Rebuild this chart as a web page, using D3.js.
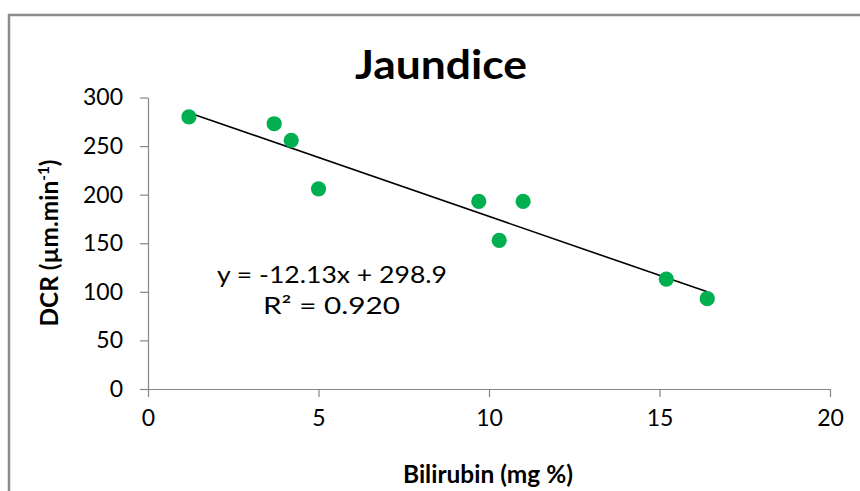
<!DOCTYPE html>
<html><head><meta charset="utf-8">
<script src="https://cdn.jsdelivr.net/npm/d3@7"></script>
<style>
html,body{margin:0;padding:0;background:#fff;}
svg text{font-family:Lato,"Open Sans",sans-serif;}
</style></head>
<body>
<svg id="chart" width="860" height="491"></svg>
<script>
const bilirubin = [1.2, 3.7, 4.2, 5.0, 9.7, 10.3, 11.0, 15.2, 16.4];
const dcr = [280, 273, 256, 206, 193, 153, 193, 113, 93];
const xTicks = [0, 5, 10, 15, 20];
const yTicks = [0, 50, 100, 150, 200, 250, 300];
const slope = -12.13, intercept = 298.9, r2 = "0.920";
const title = "Jaundice";
const xLabel = "Bilirubin (mg %)";

const svg = d3.select("#chart");
const x = d3.scaleLinear().domain([0, 20]).range([148, 830]);
const y = d3.scaleLinear().domain([0, 300]).range([389, 97.5]);

// outer frame (left and top edges visible)
svg.append("path").attr("d", "M9,491 V15 H860").attr("fill", "none")
  .attr("stroke", "#8c8c8c").attr("stroke-width", 2.5);

// axes
const xAxis = svg.append("g").attr("transform", `translate(0,${y(0)})`)
  .call(d3.axisBottom(x).tickValues(xTicks).tickSize(8).tickSizeOuter(0).tickPadding(13));
const yAxis = svg.append("g").attr("transform", `translate(${x(0)},0)`)
  .call(d3.axisLeft(y).tickValues(yTicks).tickSize(8).tickSizeOuter(0).tickPadding(17));
[xAxis, yAxis].forEach(g => {
  g.select(".domain").attr("stroke", "#868686").attr("stroke-width", 1.2);
  g.selectAll(".tick line").attr("stroke", "#868686").attr("stroke-width", 1.2);
  g.selectAll(".tick text").attr("fill", "#000").style("font-size", "23px").style("font-family", "Lato");
});

// trendline
const xmin = d3.min(bilirubin), xmax = d3.max(bilirubin);
svg.append("line")
  .attr("x1", x(xmin)).attr("y1", y(slope * xmin + intercept))
  .attr("x2", x(xmax)).attr("y2", y(slope * xmax + intercept))
  .attr("stroke", "#000").attr("stroke-width", 1.6);

// points
svg.append("g").selectAll("circle").data(bilirubin).join("circle")
  .attr("cx", d => x(d)).attr("cy", (d, i) => y(dcr[i])).attr("r", 7.6)
  .attr("fill", "#00b050");

// title
svg.append("text").attr("x", 441).attr("y", 79).attr("text-anchor", "middle")
  .attr("textLength", 172).attr("lengthAdjust", "spacingAndGlyphs")
  .style("font-size", "40px").style("font-weight", "bold").text(title);

// x label
svg.append("text").attr("x", 488).attr("y", 483).attr("text-anchor", "middle")
  .attr("textLength", 170).attr("lengthAdjust", "spacingAndGlyphs")
  .style("font-size", "24px").style("font-weight", "bold").text(xLabel);

// y label
const yl = svg.append("text").attr("transform", "translate(58,243) rotate(-90)")
  .attr("text-anchor", "middle").style("font-size", "24px").style("font-weight", "bold")
  .attr("textLength", 167).attr("lengthAdjust", "spacingAndGlyphs");
yl.append("tspan").text("DCR (µm.min");
yl.append("tspan").attr("dy", -9).style("font-size", "15px").text("-1");
yl.append("tspan").attr("dy", 9).text(")");

// equation
const eq = svg.append("g").style("font-size", "24px");
eq.append("text").attr("x", 332).attr("y", 283).attr("text-anchor", "middle")
  .attr("textLength", 230).attr("lengthAdjust", "spacingAndGlyphs")
  .text(`y = ${slope.toFixed(2)}x + ${intercept.toFixed(1)}`);
eq.append("text").attr("x", 331.5).attr("y", 314).attr("text-anchor", "middle")
  .attr("textLength", 137).attr("lengthAdjust", "spacingAndGlyphs")
  .text(`R² = ${r2}`);
</script>
</body></html>
